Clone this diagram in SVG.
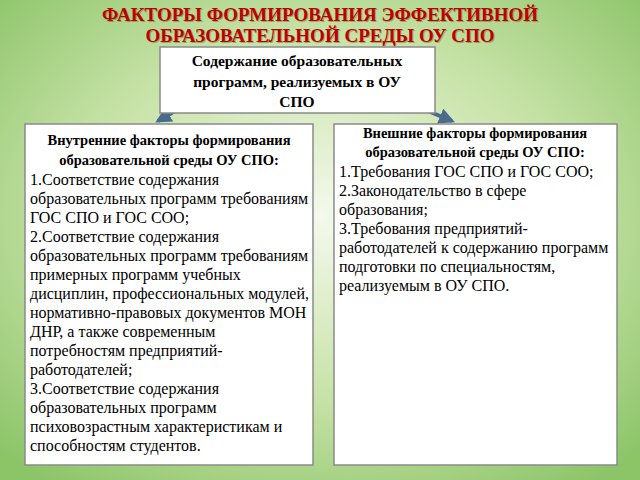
<svg xmlns="http://www.w3.org/2000/svg" width="640" height="480" viewBox="0 0 640 480">
<defs>
<radialGradient id="bg" cx="50%" cy="45%" r="70%">
<stop offset="0" stop-color="#f4f9ec"/><stop offset="0.55" stop-color="#c6e2a6"/><stop offset="1" stop-color="#8cc468"/>
</radialGradient>
<marker id="ah" viewBox="0 0 10 10" refX="8" refY="5" markerWidth="4" markerHeight="4" orient="auto"><path d="M0,0L10,5L0,10z" fill="#4a6b8c"/></marker>
<style>
.t{font-family:"Liberation Serif","Times New Roman","DejaVu Serif",serif;font-size:16px;fill:#000}
.box{fill:#fff;stroke:#8a8a8a;stroke-width:1.5}
.b{font-weight:bold;font-size:14.5px}
.title{font-family:"Liberation Serif","Times New Roman",serif;font-size:19px;font-weight:bold;fill:#c00000;text-anchor:middle}
.sh{fill:#5a3a00;opacity:.35}
.c{stroke:#4a6b8c;stroke-width:4;fill:none;marker-end:url(#ah)}
</style>
</defs>
<rect width="640" height="480" fill="url(#bg)"/>
<g id="title">
<text class="title sh" x="321" y="22">ФАКТОРЫ ФОРМИРОВАНИЯ ЭФФЕКТИВНОЙ</text>
<text class="title" x="320" y="21">ФАКТОРЫ ФОРМИРОВАНИЯ ЭФФЕКТИВНОЙ</text>
<text class="title sh" x="321" y="43">ОБРАЗОВАТЕЛЬНОЙ СРЕДЫ ОУ СПО</text>
<text class="title" x="320" y="42">ОБРАЗОВАТЕЛЬНОЙ СРЕДЫ ОУ СПО</text>
</g>
<g id="connectors">
<path class="c" d="M192,101 L158,121"/>
<path class="c" d="M404,101 L452,121"/>
</g>
<g id="top">
<rect class="box" x="160" y="47" width="275" height="66"/>
<text class="t b" text-anchor="middle" x="297" y="66" style="font-size:15.5px">Содержание образовательных</text>
<text class="t b" text-anchor="middle" x="297" y="87" style="font-size:15.5px">программ, реализуемых в ОУ</text>
<text class="t b" text-anchor="middle" x="297" y="107" style="font-size:15.5px">СПО</text>
</g>
<g id="left">
<rect class="box" x="25" y="124" width="288" height="341"/>
<text class="t b" text-anchor="middle" x="169" y="145">Внутренние факторы формирования</text>
<text class="t b" text-anchor="middle" x="169" y="165">образовательной среды ОУ СПО:</text>
<text class="t"><tspan x="30" y="185">1.Соответствие содержания</tspan><tspan x="30" y="204">образовательных программ требованиям</tspan><tspan x="30" y="223">ГОС СПО и ГОС СОО;</tspan><tspan x="30" y="242">2.Соответствие содержания</tspan><tspan x="30" y="261">образовательных программ требованиям</tspan><tspan x="30" y="280">примерных программ учебных</tspan><tspan x="30" y="299">дисциплин, профессиональных модулей,</tspan><tspan x="30" y="318">нормативно-правовых документов МОН</tspan><tspan x="30" y="337">ДНР, а также современным</tspan><tspan x="30" y="356">потребностям предприятий-</tspan><tspan x="30" y="375">работодателей;</tspan><tspan x="30" y="394">3.Соответствие содержания</tspan><tspan x="30" y="413">образовательных программ</tspan><tspan x="30" y="432">психовозрастным характеристикам  и</tspan><tspan x="30" y="451">способностям студентов.</tspan></text>
</g>
<g id="right">
<rect class="box" x="334" y="124" width="283" height="341"/>
<text class="t b" text-anchor="middle" x="475" y="138">Внешние факторы формирования</text>
<text class="t b" text-anchor="middle" x="475" y="157">образовательной среды ОУ СПО:</text>
<text class="t"><tspan x="339" y="177">1.Требования ГОС СПО и ГОС СОО;</tspan><tspan x="339" y="196">2.Законодательство в сфере</tspan><tspan x="339" y="215">образования;</tspan><tspan x="339" y="234">3.Требования предприятий-</tspan><tspan x="339" y="253">работодателей к содержанию программ</tspan><tspan x="339" y="272">подготовки по специальностям,</tspan><tspan x="339" y="291">реализуемым в ОУ СПО.</tspan></text>
</g>
</svg>
